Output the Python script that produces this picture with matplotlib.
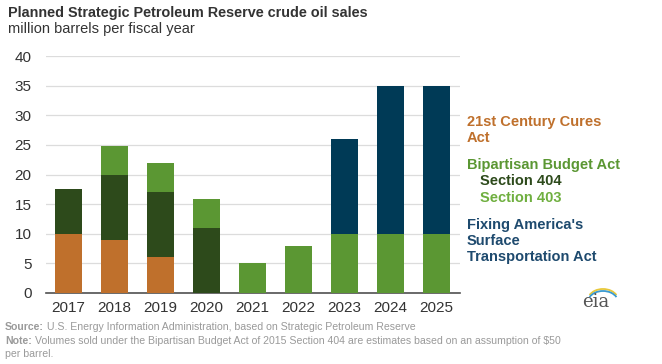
import matplotlib
matplotlib.use("Agg")
import matplotlib.pyplot as plt
import numpy as np
from matplotlib.patches import Arc
from matplotlib import font_manager

plt.rcParams['font.family'] = ['Liberation Sans', 'DejaVu Sans']

years = ["2017", "2018", "2019", "2020", "2021", "2022", "2023", "2024", "2025"]
cures = [10, 9, 6, 0, 0, 0, 0, 0, 0]
sec404 = [7.6, 11, 11, 11, 0, 0, 0, 0, 0]
sec403 = [0, 4.8, 5, 4.8, 5, 8, 10, 10, 10]
fast = [0, 0, 0, 0, 0, 0, 16, 25, 25]
yticks = [0, 5, 10, 15, 20, 25, 30, 35, 40]

c_cures = "#BF702C"
c_404 = "#2D4A1B"
c_403 = "#5B9733"
c_fast = "#003A56"

fig = plt.figure(figsize=(6.62, 3.64), dpi=100)
ax = fig.add_axes([45.5/662, 1-293/364, 414/662, 237/364])

x = np.arange(len(years))
w = 0.59
b = np.zeros(len(years))
for vals, col in [(cures, c_cures), (sec404, c_404), (sec403, c_403), (fast, c_fast)]:
    v = np.array(vals, dtype=float)
    ax.bar(x, v, w, bottom=b, color=col, edgecolor='none', zorder=3)
    b += v

ax.set_xlim(-0.5, len(years) - 0.5)
ax.set_ylim(0, 40)
ax.set_yticks(yticks)
ax.set_xticks(x)
ax.set_xticklabels(years)
ax.grid(axis='y', color='#DCDCDC', linewidth=0.9, zorder=0)
for s in ['top', 'right', 'left']:
    ax.spines[s].set_visible(False)
ax.spines['bottom'].set_color('#505050')
ax.spines['bottom'].set_linewidth(1.2)
ax.tick_params(axis='both', length=0, labelsize=11, colors='#333333', pad=6)
ax.tick_params(axis='y', pad=10)

fig.text(8/662, 1-13/364, "Planned Strategic Petroleum Reserve crude oil sales", fontsize=10.4,
         fontweight='bold', color='#333333', va='center')
fig.text(8/662, 1-29/364, "million barrels per fiscal year", fontsize=10.5, color='#333333', va='center')

lx = 467/662
def lt(y, s, col, dx=0):
    fig.text(lx + dx/662, 1-y/364, s, fontsize=10.5, fontweight='bold', color=col, va='center')
lt(122, "21st Century Cures", c_cures)
lt(138, "Act", c_cures)
lt(165, "Bipartisan Budget Act", c_403)
lt(181, "Section 404", c_404, 13)
lt(198, "Section 403", "#6FAF3F", 13)
lt(225, "Fixing America's", "#1E4A6E")
lt(241, "Surface", "#1E4A6E")
lt(257, "Transportation Act", "#1E4A6E")

fig.text(596/662, 1-302/364, "eia", fontsize=13, family='DejaVu Serif', color='#555555',
         va='center', ha='center')
fax = fig.add_axes([0, 0, 1, 1], facecolor='none')
fax.set_xlim(0, 662); fax.set_ylim(364, 0); fax.axis('off')
fax.add_patch(Arc((603, 300), 30, 22, theta1=200, theta2=340, color='#E8C83A', lw=1.3))
fax.add_patch(Arc((603, 302), 30, 22, theta1=200, theta2=340, color='#3A9AD0', lw=1.3))

names = {f.name for f in font_manager.fontManager.ttflist}
narrow = 'Liberation Sans Narrow' in names
ffam = ['Liberation Sans Narrow', 'Liberation Sans'] if narrow else ['Liberation Sans']
fsz = 9 if narrow else 7.6

gray = '#9A9A9A'
renderer = fig.canvas.get_renderer()
def foot(y, label, rest):
    xp = 5
    if label:
        t = fig.text(xp/662, 1-y/364, label, fontsize=fsz, fontweight='bold', color=gray,
                     va='center', family=ffam)
        xp += t.get_window_extent(renderer).width + 3
    fig.text(xp/662, 1-y/364, rest, fontsize=fsz, color=gray, va='center', family=ffam)

foot(327, "Source:", "U.S. Energy Information Administration, based on Strategic Petroleum Reserve")
foot(341, "Note:", "Volumes sold under the Bipartisan Budget Act of 2015 Section 404 are estimates based on an assumption of $50")
foot(354, "", "per barrel.")

fig.savefig("out.png", dpi=100)
